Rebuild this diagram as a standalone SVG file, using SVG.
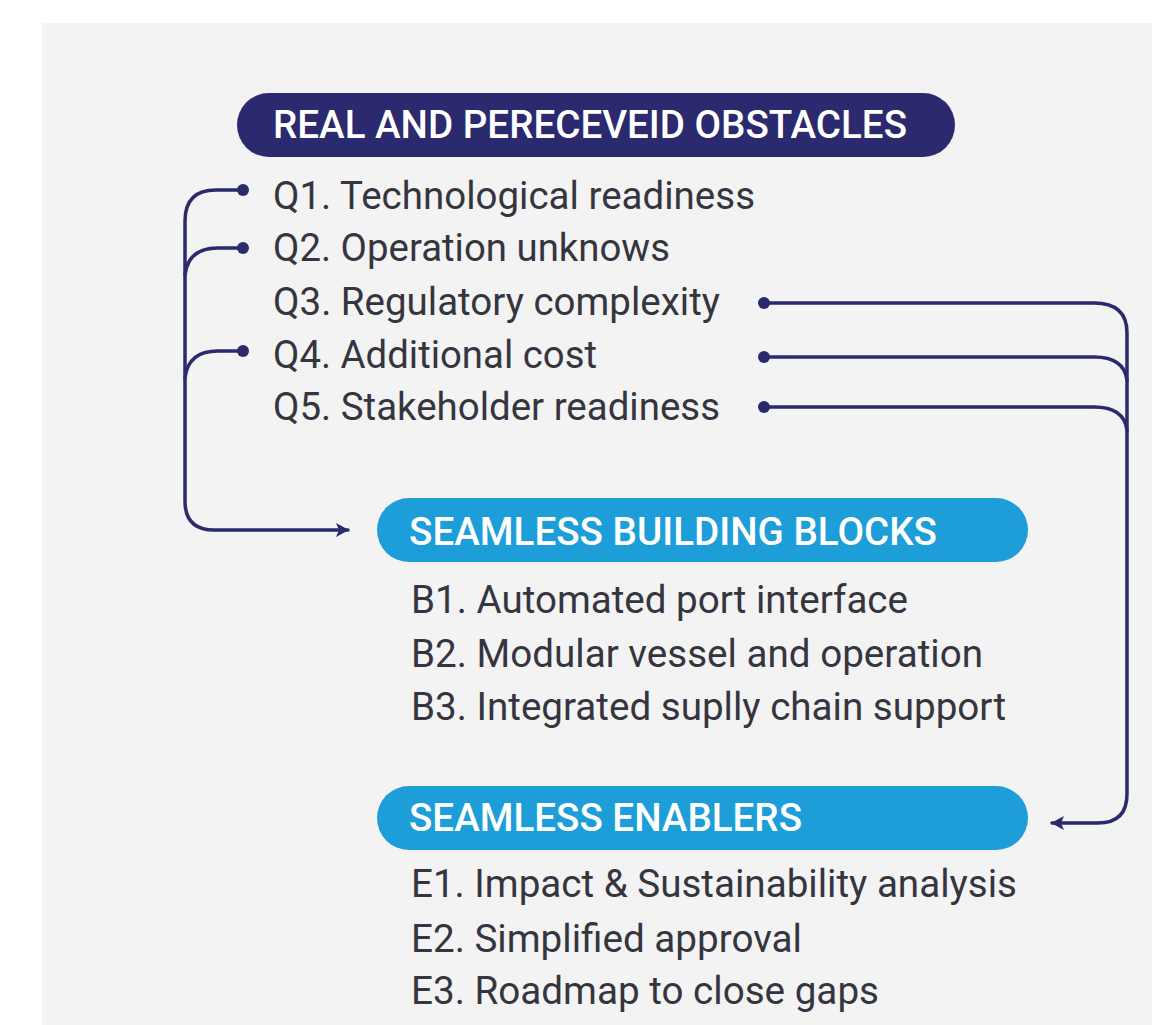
<svg xmlns="http://www.w3.org/2000/svg" width="1152" height="1025" viewBox="0 0 1152 1025">
  <style>
    .item { font-family: Roboto, "Liberation Sans", sans-serif; font-size: 38px; fill: #35353f; }
    .head { font-family: Roboto, "Liberation Sans", sans-serif; font-size: 38px; font-weight: 500; fill: #ffffff; }
    .conn { fill: none; stroke: #2b2a6e; stroke-width: 3.5; stroke-linecap: round; }
    .dot { fill: #2b2a6e; }
  </style>
  <defs>
    <marker id="arrow" markerUnits="userSpaceOnUse" markerWidth="16" markerHeight="16" refX="12" refY="7" orient="auto">
      <path d="M0,0 L13,7 L0,14 L3,7 Z" fill="#2b2a6e"/>
    </marker>
  </defs>
  <rect x="0" y="0" width="1152" height="1025" fill="#ffffff"/>
  <rect x="42" y="23" width="1110" height="1002" fill="#f3f3f3"/>

  <g id="connectors">
    <path class="conn" d="M243,190 H216 Q185,190 185,221 V501 Q185,530 214,530 H348" marker-end="url(#arrow)"/>
    <path class="conn" d="M243,248 H218 Q188,248 185,275"/>
    <path class="conn" d="M243,351 H218 Q188,351 185,378"/>
    <path class="conn" d="M763,303 H1094 Q1127,303 1127,333 V794 Q1127,823 1098,823 H1052" marker-end="url(#arrow)"/>
    <path class="conn" d="M763,357 H1094 Q1124,357 1127,380"/>
    <path class="conn" d="M763,407 H1094 Q1124,407 1127,430"/>
    <circle class="dot" cx="243" cy="190" r="6"/>
    <circle class="dot" cx="243" cy="248" r="6"/>
    <circle class="dot" cx="243" cy="351" r="6"/>
    <circle class="dot" cx="764" cy="303" r="6"/>
    <circle class="dot" cx="764" cy="357" r="6"/>
    <circle class="dot" cx="764" cy="407" r="6"/>
  </g>

  <g id="obstacles">
    <rect x="237" y="93" width="718" height="64" rx="32" fill="#2b2a6e"/>
    <text class="head" x="273" y="138" textLength="634" lengthAdjust="spacingAndGlyphs">REAL AND PERECEVEID OBSTACLES</text>
    <text class="item" x="273" y="209" textLength="482" lengthAdjust="spacingAndGlyphs">Q1. Technological readiness</text>
    <text class="item" x="273" y="261" textLength="397" lengthAdjust="spacingAndGlyphs">Q2. Operation unknows</text>
    <text class="item" x="273" y="315" textLength="447" lengthAdjust="spacingAndGlyphs">Q3. Regulatory complexity</text>
    <text class="item" x="273" y="368" textLength="324" lengthAdjust="spacingAndGlyphs">Q4. Additional cost</text>
    <text class="item" x="273" y="420" textLength="447" lengthAdjust="spacingAndGlyphs">Q5. Stakeholder readiness</text>
  </g>

  <g id="building-blocks">
    <rect x="377" y="498" width="651" height="64" rx="32" fill="#1e9ed9"/>
    <text class="head" x="409" y="545" textLength="528" lengthAdjust="spacingAndGlyphs">SEAMLESS BUILDING BLOCKS</text>
    <text class="item" x="411" y="613" textLength="497" lengthAdjust="spacingAndGlyphs">B1. Automated port interface</text>
    <text class="item" x="411" y="667" textLength="572" lengthAdjust="spacingAndGlyphs">B2. Modular vessel and operation</text>
    <text class="item" x="411" y="720" textLength="595" lengthAdjust="spacingAndGlyphs">B3. Integrated suplly chain support</text>
  </g>

  <g id="enablers">
    <rect x="377" y="786" width="651" height="64" rx="32" fill="#1e9ed9"/>
    <text class="head" x="409" y="831" textLength="393" lengthAdjust="spacingAndGlyphs">SEAMLESS ENABLERS</text>
    <text class="item" x="411" y="897" textLength="606" lengthAdjust="spacingAndGlyphs">E1. Impact &amp; Sustainability analysis</text>
    <text class="item" x="411" y="952" textLength="391" lengthAdjust="spacingAndGlyphs">E2. Simplified approval</text>
    <text class="item" x="411" y="1004" textLength="468" lengthAdjust="spacingAndGlyphs">E3. Roadmap to close gaps</text>
  </g>
</svg>
